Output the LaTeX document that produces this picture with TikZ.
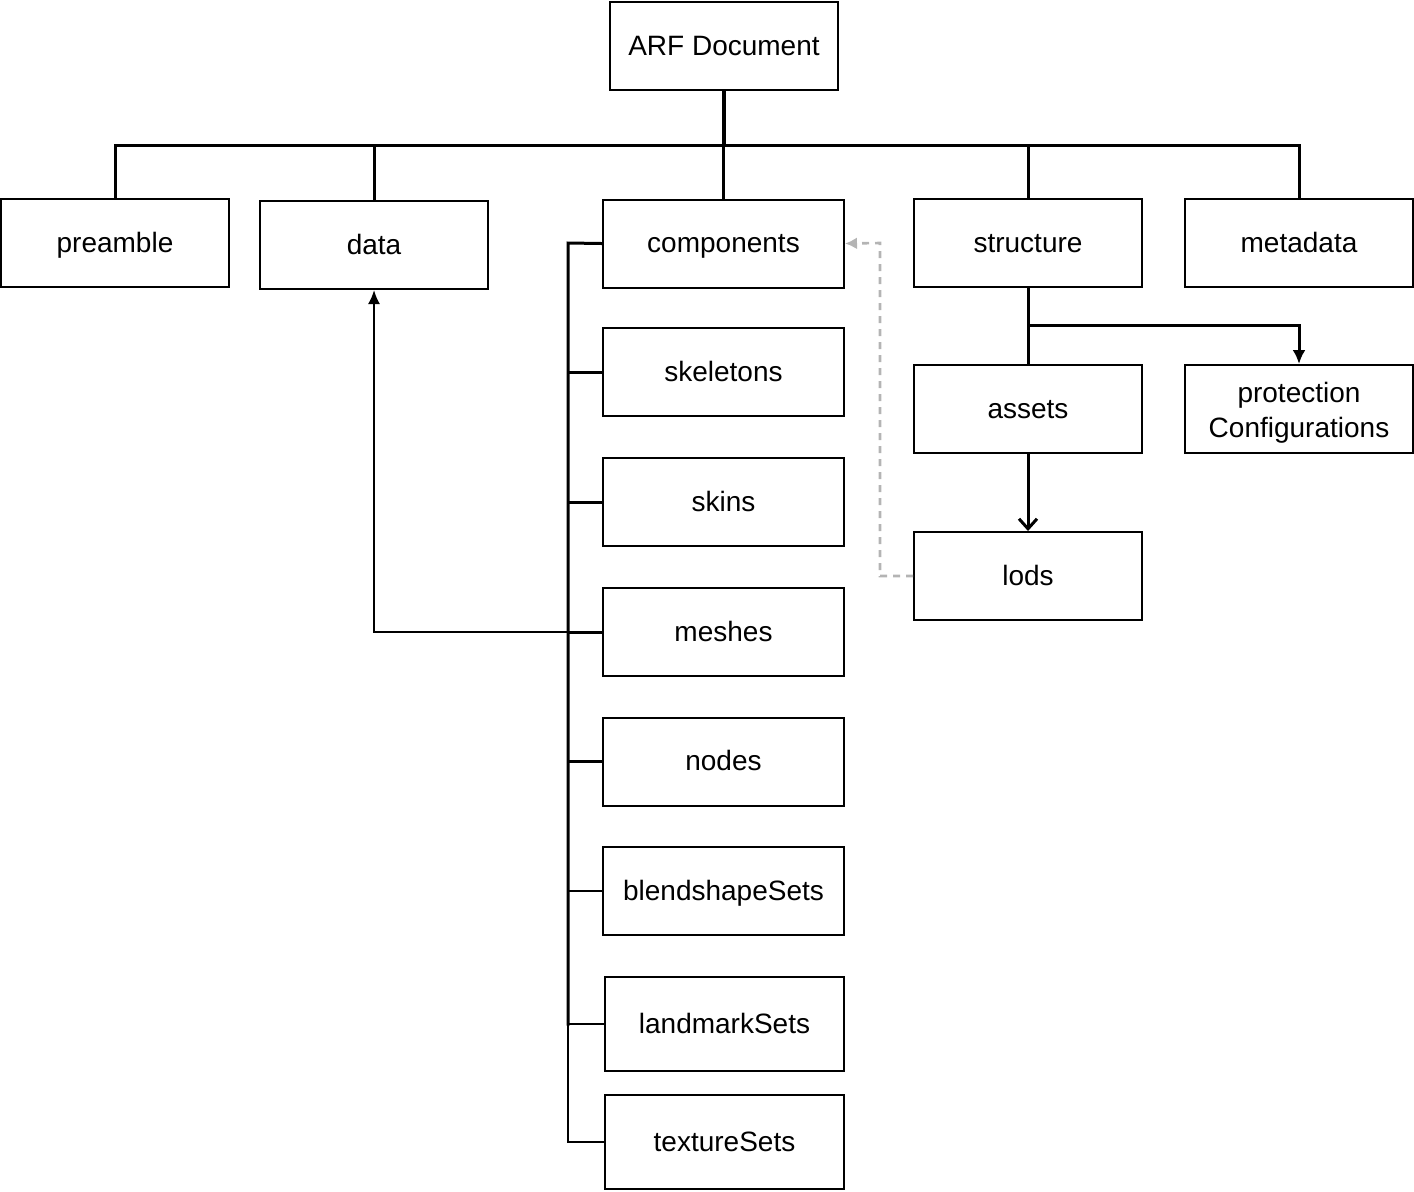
\documentclass[tikz,border=0pt]{standalone}
\usepackage{fontspec}
\setmainfont{Liberation Sans}
\usetikzlibrary{arrows.meta}
\definecolor{dashgray}{HTML}{B4B4B4}
\tikzset{
  boxtext/.style={inner sep=0pt, font=\fontsize{14}{17.5}\selectfont, align=center},
  box/.style={boxtext, draw=black, line width=1pt, rectangle, minimum width=114pt, minimum height=44pt, text height=9pt, text depth=0pt},
  widebox/.style={box, minimum width=120.5pt},
  thick conn/.style={line width=1.5pt, line cap=rect},
  thin conn/.style={line width=1pt},
  gray conn/.style={draw=dashgray, line width=1.3pt, dash pattern=on 3.5pt off 3pt},
}
\begin{document}
\begin{tikzpicture}[x=0.5pt,y=-0.5pt]
\useasboundingbox (0,0) rectangle (1414,1191);

% top level
\node[box] (arf) at (724,46) {ARF Document};
\node[box] (preamble) at (115,243) {preamble};
\node[box] (data) at (374,245) {data};
\node[widebox] (components) at (723.5,243.5) {components};
\node[box] (structure) at (1028,243) {structure};
\node[box] (metadata) at (1299,243) {metadata};

% components children
\node[widebox] (skeletons) at (723.5,372) {skeletons};
\node[widebox] (skins) at (723.5,502) {skins};
\node[widebox] (meshes) at (723.5,632) {meshes};
\node[widebox] (nodes) at (723.5,761.5) {nodes};
\node[widebox] (blend) at (723.5,891) {blendshapeSets};
\node[box, minimum width=119.5pt, minimum height=47pt] (landmark) at (724.5,1024) {landmarkSets};
\node[box, minimum width=119.5pt, minimum height=47pt] (texture) at (724.5,1142) {textureSets};

% structure children
\node[box] (assets) at (1028,409) {assets};
\node[box] (protection) at (1299,409) {};
\node[boxtext] (protectiontext) at ([yshift=-2pt]protection.center) {protection\\Configurations};
\node[box] (lods) at (1028,576) {lods};

% coordinates
\coordinate (bus) at (724,145);
\coordinate (trunk) at (568,243);
\coordinate (sbus) at (1028,325);
\coordinate (dashx) at (880,243);

% top bus
\draw[thick conn, line width=2pt] (arf.south) -- (arf.south |- bus);
\draw[thick conn] (preamble.north) -- (preamble.north |- bus) -- (metadata.north |- bus) -- (metadata.north);
\draw[thick conn] (data.north) -- (data.north |- bus);
\draw[thick conn] (components.north) -- (components.north |- bus);
\draw[thick conn] (structure.north) -- (structure.north |- bus);

% components tree
\draw[thick conn] (components.west) -- (trunk) -- (trunk |- landmark.west);
\draw[thin conn] (trunk |- landmark.west) -- (trunk |- texture.west) -- (texture.west);
\draw[thick conn] (trunk |- skeletons.west) -- (skeletons.west);
\draw[thick conn] (trunk |- skins.west) -- (skins.west);
\draw[thick conn] (trunk |- meshes.west) -- (meshes.west);
\draw[thick conn] (trunk |- nodes.west) -- (nodes.west);
\draw[thin conn] (trunk |- blend.west) -- (blend.west);
\draw[thin conn] (trunk |- landmark.west) -- (landmark.west);

% meshes -> data
\draw[thin conn, -{Latex[length=7pt,width=6pt]}] (meshes.west) -- (data.south |- meshes.west) -- (data.south);

% structure
\draw[thick conn] (structure.south) -- (assets.north);
\draw[thick conn, line cap=butt, -{Latex[length=7pt,width=6.5pt]}] (sbus) -- (protection.north |- sbus) -- (protection.north);
\draw[thick conn, line cap=butt, -{Straight Barb[length=5pt,width=9pt]}] (assets.south) -- (lods.north);

% lods -> components (dashed)
\draw[gray conn, -{Latex[length=6pt,width=6pt]}] (lods.west) -- (dashx |- lods.west) -- (dashx) -- (components.east);
\end{tikzpicture}
\end{document}
